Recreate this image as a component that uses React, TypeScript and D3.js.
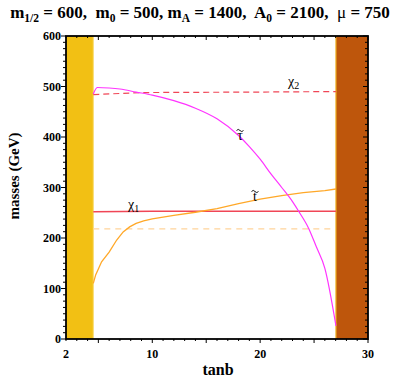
import React from "react";
import * as d3 from "d3";

// tanb, mass (GeV)
const stauTanb = [4.53, 4.9, 6, 7, 8.5, 10, 12, 14, 16, 18, 19, 20, 21, 22, 23, 23.6, 24.5, 25.2, 26, 27.03];
const stauMass = [485, 498, 497, 495, 489, 483, 472, 457, 436, 403, 381, 356, 327, 300, 272, 252, 219, 183, 140, 26];

const stopTanb = [4.53, 4.75, 5.3, 6, 6.7, 7.3, 7.9, 8.5, 9.2, 10, 12, 14, 16, 18, 20, 22, 24, 26, 27.03];
const stopMass = [110, 127, 153, 172, 196, 212, 222, 229, 234, 238, 245, 251, 258, 268, 277, 284, 290, 294, 297];

const chi1Tanb = [4.53, 10, 20, 27.03];
const chi1Mass = [252, 253, 253, 253];

const chi2Tanb = [4.53, 9, 20, 27.03];
const chi2Mass = [484, 488, 489, 490];

const stopDashTanb = [4.53, 26.7];
const stopDashMass = [218, 218];

// excluded regions
const lowBand = [2, 4.53];
const highBand = [27.03, 30];

const xTickLabels = [2, 10, 20, 30];
const yTickLabels = [0, 100, 200, 300, 400, 500, 600];

const zip = (xs: number[], ys: number[]) => xs.map((x, i) => [x, ys[i]] as [number, number]);

// sfermion label with a drawn tilde on top
const Tilde = ({ x, y, ch }: { x: number; y: number; ch: string }) => (
  <g>
    <text x={x} y={y} fontSize={14} textAnchor="middle">{ch}</text>
    <path d={`M${x - 3.5},${y - 9.5} q1.7,-2.2 3.5,0 t3.5,0`} fill="none" stroke="black" strokeWidth={0.9} />
  </g>
);

export default function App() {
  const left = 66, right = 368, top = 36, bottom = 339;
  const x = d3.scaleLinear().domain([2, 30]).range([left, right]);
  const y = d3.scaleLinear().domain([0, 600]).range([bottom, top]);
  const line = d3.line<[number, number]>().x((d) => x(d[0])).y((d) => y(d[1]));

  const xMinor = d3.range(2, 31, 1);
  const xMajor = d3.range(5, 31, 5);
  const yMinor = d3.range(0, 600.1, 12.5);

  const serif = "'Liberation Serif', 'Times New Roman', serif";

  return (
    <svg width={394} height={382} style={{ position: "absolute", left: 0, top: 0 }} fontFamily={serif}>
      <rect width={394} height={382} fill="white" />
      <text x={200} y={18} textAnchor="middle" fontWeight="bold" fontSize={17} style={{ whiteSpace: "pre" }}>
        m<tspan dy={4} fontSize={11.5}>1/2</tspan>
        <tspan dy={-4}> = 600,  m</tspan>
        <tspan dy={4} fontSize={11.5}>0</tspan>
        <tspan dy={-4}> = 500, m</tspan>
        <tspan dy={4} fontSize={11.5}>A</tspan>
        <tspan dy={-4}> = 1400,  A</tspan>
        <tspan dy={4} fontSize={11.5}>0</tspan>
        <tspan dy={-4}> = 2100,  </tspan>
        <tspan fontWeight="normal">μ</tspan>
        <tspan> = 750</tspan>
      </text>

      <rect x={x(lowBand[0])} y={top} width={x(lowBand[1]) - x(lowBand[0])} height={bottom - top} fill="#F2C014" />
      <line x1={x(lowBand[1])} x2={x(lowBand[1])} y1={top} y2={bottom} stroke="#F8DC70" strokeWidth={1} />
      <rect x={x(highBand[0])} y={top} width={x(highBand[1]) - x(highBand[0])} height={bottom - top} fill="#BE560C" />
      <line x1={x(highBand[0])} x2={x(highBand[0])} y1={top} y2={bottom} stroke="#F0B020" strokeWidth={1.2} />

      <path d={line(zip(stopDashTanb, stopDashMass)) || ""} fill="none" stroke="#FFD49A" strokeWidth={1.2} strokeDasharray="6,5" />
      <path d={line(zip(chi2Tanb, chi2Mass)) || ""} fill="none" stroke="#F04656" strokeWidth={1.2} strokeDasharray="6,4" />
      <path d={line(zip(chi1Tanb, chi1Mass)) || ""} fill="none" stroke="#F04656" strokeWidth={1.4} />
      <path d={line(zip(stopTanb, stopMass)) || ""} fill="none" stroke="#FFA828" strokeWidth={1.3} />
      <path d={line.curve(d3.curveMonotoneX)(zip(stauTanb, stauMass)) || ""} fill="none" stroke="#FF33FF" strokeWidth={1.2} />

      <text x={288} y={86} fontSize={14}>χ<tspan dy={3} fontSize={10}>2</tspan></text>
      <text x={128} y={209} fontSize={14}>χ<tspan dy={3} fontSize={10}>1</tspan></text>
      <Tilde x={240} y={140} ch="τ" />
      <Tilde x={255} y={201} ch="t" />

      {xMinor.map((t) => {
        const len = xMajor.includes(t) ? 4 : 2;
        return (
          <g key={"x" + t}>
            <line x1={x(t)} x2={x(t)} y1={bottom} y2={bottom + len} stroke="black" strokeWidth={1} />
            <line x1={x(t)} x2={x(t)} y1={top} y2={top + len} stroke="black" strokeWidth={1} />
          </g>
        );
      })}
      {yMinor.map((t) => {
        const len = t % 100 === 0 ? 5 : 3;
        return (
          <g key={"y" + t}>
            <line x1={left - len} x2={left} y1={y(t)} y2={y(t)} stroke="black" strokeWidth={1} />
            <line x1={right - len} x2={right} y1={y(t)} y2={y(t)} stroke="black" strokeWidth={1} />
          </g>
        );
      })}
      <rect x={left} y={top} width={right - left} height={bottom - top} fill="none" stroke="black" strokeWidth={1.8} />

      {xTickLabels.map((t) => (
        <text key={"xl" + t} x={x(t)} y={358} textAnchor="middle" fontWeight="bold" fontSize={12}>{t}</text>
      ))}
      {yTickLabels.map((t) => (
        <text key={"yl" + t} x={left - 5} y={y(t) + 4} textAnchor="end" fontWeight="bold" fontSize={12}>{t}</text>
      ))}

      <text x={218} y={375} textAnchor="middle" fontWeight="bold" fontSize={16}>tanb</text>
      <text transform="translate(19,176) rotate(-90)" textAnchor="middle" fontWeight="bold" fontSize={15}>masses (GeV)</text>
    </svg>
  );
}
